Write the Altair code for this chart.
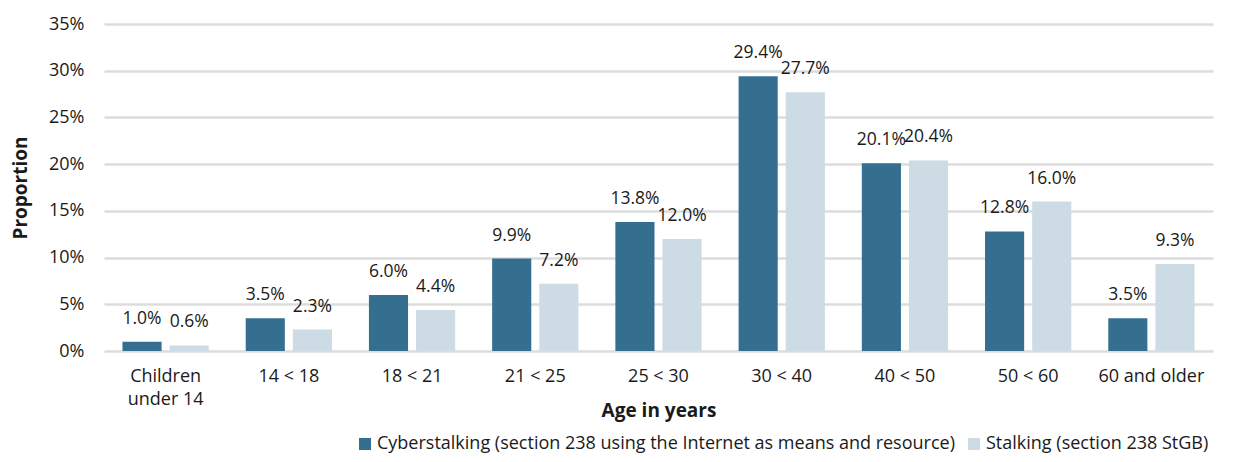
import altair as alt
import pandas as pd

categories = ["Children under 14", "14 < 18", "18 < 21", "21 < 25", "25 < 30",
              "30 < 40", "40 < 50", "50 < 60", "60 and older"]
series_names = ["Cyberstalking (section 238 using the Internet as means and resource)",
                "Stalking (section 238 StGB)"]
cyber = [1.0, 3.5, 6.0, 9.9, 13.8, 29.4, 20.1, 12.8, 3.5]
stalking = [0.6, 2.3, 4.4, 7.2, 12.0, 27.7, 20.4, 16.0, 9.3]
y_ticks = [0, 5, 10, 15, 20, 25, 30, 35]

rows = []
for c, a, b in zip(categories, cyber, stalking):
    rows.append({"cat": c, "series": series_names[0], "v": a / 100})
    rows.append({"cat": c, "series": series_names[1], "v": b / 100})
df = pd.DataFrame(rows)

FONT = "Open Sans"
FS = 18
colors = ["#346f90", "#cddbe4"]

x = alt.X("cat:N", sort=categories,
          scale=alt.Scale(paddingInner=0.3, paddingOuter=0.15),
          axis=alt.Axis(title="Age in years", labelAngle=0, tickSize=0, ticks=False,
                        domain=False, grid=False, labelPadding=16, labelFontSize=FS,
                        labelFont=FONT, labelColor="#1a1a1a", labelLineHeight=23,
                        labelExpr="datum.label == 'Children under 14' ? ['Children', 'under 14'] : datum.label",
                        titleFont=FONT, titleFontSize=19, titleFontWeight="bold",
                        titleColor="#1a1a1a", titlePadding=-7))
xo = alt.XOffset("series:N", sort=series_names,
                 scale=alt.Scale(paddingInner=0.17, paddingOuter=0))
y = alt.Y("v:Q", scale=alt.Scale(domain=[0, 0.35], nice=False),
          axis=alt.Axis(title="Proportion", format=".0%", values=[t / 100 for t in y_ticks],
                        tickSize=0, ticks=False, domain=False, labelPadding=20,
                        labelFontSize=FS, labelFont=FONT, labelColor="#1a1a1a",
                        titleFont=FONT, titleFontSize=19, titleFontWeight="bold",
                        titleColor="#1a1a1a", titlePadding=18,
                        gridColor="#dcdcdc", gridWidth=2.5))

bars = alt.Chart(df).mark_bar().encode(
    x=x, xOffset=xo, y=y,
    color=alt.Color("series:N", sort=series_names,
                    scale=alt.Scale(domain=series_names, range=colors),
                    legend=alt.Legend(title=None, orient="none", direction="horizontal",
                                      legendX=252, legendY=411, symbolType="square",
                                      symbolSize=144, symbolStrokeWidth=0,
                                      labelFont=FONT, labelFontSize=18, labelColor="#1a1a1a",
                                      labelLimit=1000, columnPadding=10, symbolOffset=0,
                                      labelOffset=3))
)

labels = alt.Chart(df).mark_text(baseline="middle", dy=-23, font=FONT, fontSize=17.5,
                                 color="#1a1a1a").encode(
    x=alt.X("cat:N", sort=categories), xOffset=alt.XOffset("series:N", sort=series_names),
    y="v:Q",
    text=alt.Text("v:Q", format=".1%"),
)

chart = (bars + labels).properties(
    width=1109, height=327,
    autosize=alt.AutoSizeParams(type="none"),
    padding={"left": 96, "top": 16, "right": 12, "bottom": 103},
    background="white",
).configure_view(stroke="transparent", strokeWidth=0)

chart.save("out.html", embed_options={"renderer": "svg", "actions": False})
